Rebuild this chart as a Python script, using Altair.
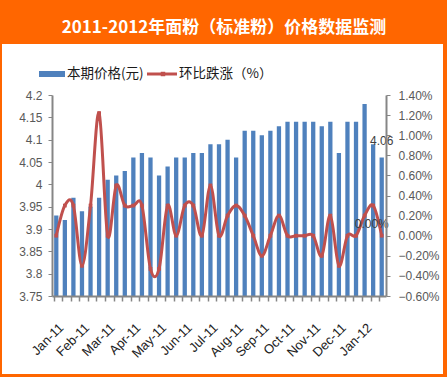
import json
import altair as alt
import pandas as pd

# ---- data ----
months = ["Jan-11", "Feb-11", "Mar-11", "Apr-11", "May-11", "Jun-11", "Jul-11",
          "Aug-11", "Sep-11", "Oct-11", "Nov-11", "Dec-11", "Jan-12"]
prices = [3.93, 3.92, 3.97, 3.94, 3.95, 3.97, 4.01, 4.02, 4.03, 4.06,
          4.07, 4.06, 4.02, 4.04, 4.06, 4.06, 4.07, 4.07, 4.09, 4.09,
          4.10, 4.06, 4.12, 4.12, 4.11, 4.12, 4.13, 4.14, 4.14, 4.14,
          4.14, 4.13, 4.14, 4.07, 4.14, 4.14, 4.18, 4.09, 4.06]
changes = [0.00, 0.30, 0.30, -0.30, 0.30, 1.22, 0.00, 0.50, 0.30, 0.30,
           0.30, -0.33, -0.33, 0.30, 0.00, 0.30, 0.30, 0.00, 0.50, 0.00,
           0.20, 0.30, 0.20, 0.00, -0.20, 0.00, 0.20, 0.00, 0.00, 0.00,
           0.00, -0.20, 0.20, -0.30, 0.00, 0.00, 0.20, 0.30, 0.00]
left_ticks = [3.75, 3.8, 3.85, 3.9, 3.95, 4.0, 4.05, 4.1, 4.15, 4.2]
right_ticks = [-0.6, -0.4, -0.2, 0.0, 0.2, 0.4, 0.6, 0.8, 1.0, 1.2, 1.4]
title_text = "2011-2012年面粉（标准粉）价格数据监测"
bar_name = "本期价格(元)"
line_name = "环比跌涨（%）"

BLUE = "#4F81BD"
RED = "#C0504D"
ORANGE = "#FF6600"
AXIS = "#868686"
CJK = "Noto Sans CJK SC"
LAT = "Liberation Sans"

n = len(prices)
df = pd.DataFrame({"idx": list(range(n)), "price": prices, "change": changes})
last = n - 1

label_expr = ("datum.value % 3 == 0 ? " + json.dumps(months) +
              "[datum.value / 3] : ''")

x_enc = alt.X("idx:O",
              scale=alt.Scale(paddingInner=0.5, paddingOuter=0.25),
              axis=alt.Axis(title=None, labelAngle=-45, labelExpr=label_expr,
                            bandPosition=0, tickSize=5, tickColor=AXIS,
                            domainColor=AXIS, domainWidth=2, tickWidth=1.5,
                            labelFont=LAT, labelFontSize=13, labelColor="#222222",
                            labelPadding=20, labelOffset=1, labelOverlap=False, zindex=2))

left_scale = alt.Scale(domain=[left_ticks[0], left_ticks[-1]], nice=False, zero=False)
right_scale = alt.Scale(domain=[right_ticks[0], right_ticks[-1]], nice=False, zero=False)

y_left = alt.Y("price:Q", scale=left_scale,
               axis=alt.Axis(title=None, values=left_ticks, format=".2~f", grid=False,
                             tickSize=4, tickColor=AXIS, domainColor=AXIS, domainWidth=2,
                             labelFont=LAT, labelFontSize=12, labelColor="#595959",
                             labelPadding=6, zindex=2))

y_right = alt.Y("change:Q", scale=right_scale,
                axis=alt.Axis(title=None, orient="right", values=right_ticks,
                              labelExpr="format(datum.value, '.2f') + '%'", grid=False,
                              tickSize=4, tickColor=AXIS, domainColor=AXIS, domainWidth=2,
                              labelFont=LAT, labelFontSize=12, labelColor="#595959",
                              labelPadding=8, zindex=2))

one = alt.Data(values=[{}])

bg = alt.Chart(one).mark_rect(color="white").encode(
    x=alt.value(-50), x2=alt.value(391), y=alt.value(-51), y2=alt.value(279))

bars = alt.Chart().mark_bar(color=BLUE, clip=True).encode(x=x_enc, y=y_left)
bar_label = alt.Chart().transform_filter(alt.datum.idx == last).mark_text(
    dy=-17, fontSize=12, font=LAT, color="#404040", baseline="middle"
).encode(x=x_enc, y=y_left, text=alt.Text("price:Q", format=".2f"))
bars_layer = alt.layer(bars, bar_label)

line = alt.Chart().mark_line(color=RED, strokeWidth=3, interpolate="cardinal").encode(
    x=x_enc, y=y_right)
pts = alt.Chart().mark_point(color=RED, filled=True, size=14, opacity=1, shape="square").encode(
    x=x_enc, y=y_right)
line_label = alt.Chart().transform_filter(alt.datum.idx == last).transform_calculate(
    lab="format(datum.change, '.2f') + '%'"
).mark_text(dx=-10, dy=-12, fontSize=12, font=LAT, color="#404040", baseline="middle").encode(
    x=x_enc, y=y_right, text="lab:N")
line_layer = alt.layer(line, pts, line_label)

# legend
lg_rect = alt.Chart(one).mark_rect(color=BLUE).encode(
    x=alt.value(-13), x2=alt.value(13), y=alt.value(-24), y2=alt.value(-18))
lg_t1 = alt.Chart(one).mark_text(text=bar_name, align="left", baseline="middle",
                                 font=CJK, fontSize=13.5, color="#1a1a1a").encode(
    x=alt.value(15), y=alt.value(-21))
lg_rule = alt.Chart(one).mark_rule(color=RED, strokeWidth=3).encode(
    x=alt.value(95), x2=alt.value(125), y=alt.value(-21))
lg_pt = alt.Chart(one).mark_point(color=RED, filled=True, size=20, opacity=1, shape="square").encode(
    x=alt.value(111), y=alt.value(-21))
lg_t2 = alt.Chart(one).mark_text(text=line_name, align="left", baseline="middle",
                                 font=CJK, fontSize=13.5, color="#1a1a1a").encode(
    x=alt.value(127), y=alt.value(-21))

chart = alt.layer(
    bg, bars_layer, line_layer, lg_rect, lg_t1, lg_rule, lg_pt, lg_t2, data=df
).resolve_scale(y="independent").properties(
    width=334, height=201,
    autosize=alt.AutoSizeParams(type="none"),
    padding={"left": 52, "top": 95, "right": 61, "bottom": 81},
    background=ORANGE,
    title=alt.TitleParams(title_text, color="white", font=CJK, fontSize=17,
                          fontWeight="bold", anchor="middle", frame="group",
                          baseline="middle", offset=-0.5, dx=5),
).configure_view(strokeWidth=0)

chart.save("out.html", embed_options={"renderer": "svg", "actions": False})
